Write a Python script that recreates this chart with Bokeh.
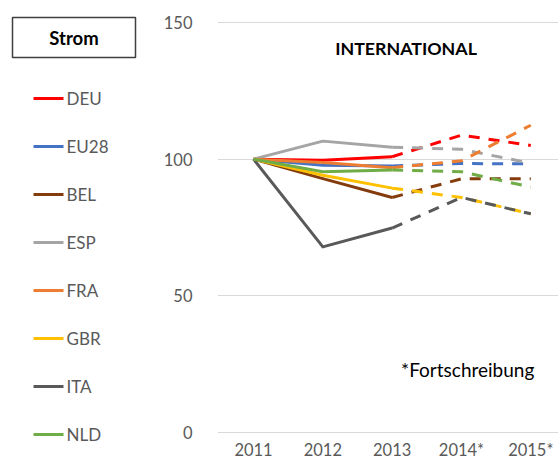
from bokeh.plotting import figure
from bokeh.models import Range1d, FixedTicker, Label
from bokeh.layouts import row
from bokeh.core.properties import value
from bokeh.embed import file_html
from bokeh.resources import INLINE

years = ["2011", "2012", "2013", "2014*", "2015*"]
countries = ["DEU", "EU28", "BEL", "ESP", "FRA", "GBR", "ITA", "NLD"]
colors = ["#FF0000", "#4472C4", "#843C0C", "#A5A5A5", "#ED7D31", "#FFC000", "#595959", "#70AD47"]

DEU = [100, 99.6, 100.9, 108.8, 105.0]
EU28 = [100, 97.8, 97.5, 98.4, 98.3]
BEL = [100, 92.9, 86.0, 92.8, 92.8]
ESP = [100, 106.6, 104.4, 103.6, 98.5]
FRA = [100, 98.8, 96.9, 99.4, 112.4]
GBR = [100, 94.1, 89.4, 86.0, 80.0]
ITA = [100, 67.9, 74.8, 86.0, 80.0]
NLD = [100, 95.4, 96.0, 95.4, 89.8]
series = [DEU, EU28, BEL, ESP, FRA, GBR, ITA, NLD]

y_ticks = [0, 50, 100, 150]

FONT = "Lato"
TXT = "#595959"
H = 468
TOP = 0       # frame top (px)
BOT = 446     # frame bottom (px)
Y150 = 22     # pixel of value 150
ZERO = 432    # pixel of value 0
PX_PER_UNIT = (ZERO - Y150) / 150.0

# ---------- legend panel ----------
lg = figure(width=150, height=H, output_backend="svg", toolbar_location=None,
            x_range=Range1d(0, 150), y_range=Range1d(BOT, TOP),
            min_border_left=0, min_border_right=0,
            min_border_top=TOP, min_border_bottom=H - BOT)
lg.axis.visible = False
lg.grid.visible = False
lg.outline_line_color = None
lg.quad(left=[12], right=[135], top=[17], bottom=[57], fill_color="white",
        line_color="#3f3f3f", line_width=1.5)
lg.text(x=[73.5], y=[37], text=["Strom"], text_font=value(FONT), text_font_style="bold",
        text_font_size="18.5px", text_align="center", text_baseline="middle", text_color="black")
for i, (name, col) in enumerate(zip(countries, colors)):
    yy = 98 + 48 * i
    lg.line([33, 63], [yy, yy], line_color=col, line_width=3)
    lg.text(x=[66], y=[yy], text=[name], text_font=value(FONT), text_font_size="17px",
            text_align="left", text_baseline="middle", text_color=TXT)

# ---------- chart ----------
y_start = -(BOT - ZERO) / PX_PER_UNIT
y_end = 150 + (Y150 - TOP) / PX_PER_UNIT
p = figure(width=408, height=H, output_backend="svg", toolbar_location=None,
           x_range=Range1d(-0.52, 4.40), y_range=Range1d(y_start, y_end),
           min_border_left=67, min_border_right=0, min_border_top=TOP,
           min_border_bottom=H - BOT)
p.outline_line_color = None
p.xgrid.visible = False
p.ygrid.grid_line_color = "#d9d9d9"
p.ygrid.grid_line_width = 1
p.yaxis.ticker = FixedTicker(ticks=y_ticks)
p.xaxis.ticker = FixedTicker(ticks=list(range(len(years))))
p.xaxis.major_label_overrides = {i: y for i, y in enumerate(years)}
for ax in (p.xaxis[0], p.yaxis[0]):
    ax.axis_line_color = None
    ax.major_tick_line_color = None
    ax.minor_tick_line_color = None
    ax.major_label_text_font = FONT
    ax.major_label_text_font_size = "16.5px"
    ax.major_label_text_color = TXT
p.yaxis.major_label_standoff = 19
p.xaxis.major_label_standoff = -13

xs = list(range(len(years)))
for vals, col in zip(series, colors):
    p.line(xs[:3], vals[:3], line_color=col, line_width=3, line_join="round")
for vals, col in zip(series, colors):
    p.line(xs[2:], vals[2:], line_color=col, line_width=3, line_dash="11 9")

p.add_layout(Label(x=2.2, y=140.8, text="INTERNATIONAL", text_font=FONT, text_font_style="bold",
                   text_font_size="17.8px", text_align="center", text_baseline="middle",
                   text_color="black"))
p.add_layout(Label(x=3.09, y=22.9, text="*Fortschreibung", text_font=FONT,
                   text_font_size="19px", text_align="center", text_baseline="middle",
                   text_color="black"))

layout = row(lg, p)
open("out.html", "w").write(file_html(layout, INLINE))
